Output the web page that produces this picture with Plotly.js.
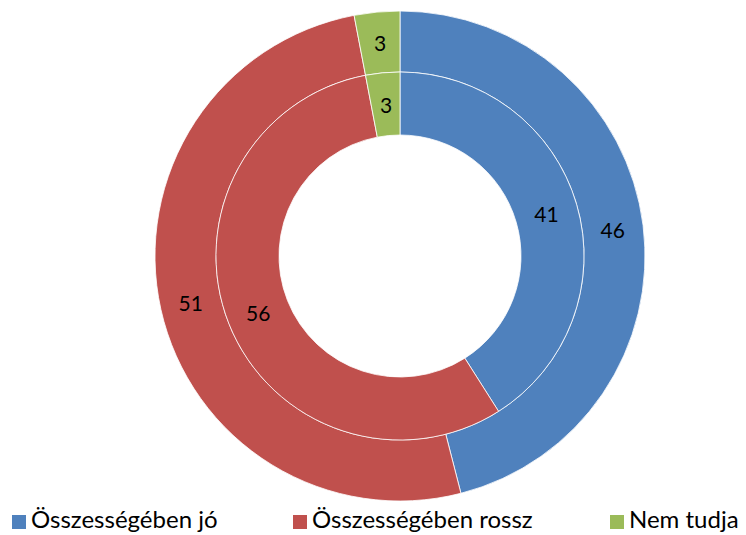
<!DOCTYPE html>
<html>
<head>
<meta charset="utf-8">
<script src="https://cdn.plot.ly/plotly-3.0.1.min.js"></script>
<style>html,body{margin:0;padding:0;background:#fff;}#chart{width:746px;height:535px;}</style>
</head>
<body>
<div id="chart"></div>
<script>
var categories = ["Összességében jó", "Összességében rossz", "Nem tudja"];
var outerValues = [46, 51, 3];
var innerValues = [41, 56, 3];
var colors = ["#4F81BD", "#C0504D", "#9BBB59"];

var W = 746, H = 535;
var FONT = "Lato, 'Open Sans', sans-serif";
var cx = 400, cy = 256;          // pie centre in pixels
var rOuter = 245, rMid = 184, rHole = 121;

function makePie(values, r, hole) {
  // small slices get their labels as annotations placed at mid-ring
  var texts = values.map(function (v) { return v >= 10 ? String(v) : ""; });
  return {
    type: "pie",
    labels: categories,
    values: values,
    text: texts,
    sort: false,
    direction: "clockwise",
    rotation: 0,
    hole: hole,
    textinfo: "text",
    textposition: "inside",
    insidetextorientation: "horizontal",
    textfont: {family: FONT, size: 21, color: "#000"},
    marker: {colors: colors, line: {color: "#ffffff", width: 0.8}},
    domain: {x: [(cx - r) / W, (cx + r) / W], y: [(H - cy - r) / H, (H - cy + r) / H]},
    showlegend: false,
    hoverinfo: "label+value"
  };
}

var outer = makePie(outerValues, rOuter, rMid / rOuter);
var inner = makePie(innerValues, rMid, rHole / rMid);

var annotations = [];
function smallLabels(values, rIn, rOut) {
  var total = values.reduce(function (a, b) { return a + b; }, 0);
  var cum = 0;
  values.forEach(function (v) {
    var midFrac = (cum + v / 2) / total;
    cum += v;
    if (v >= 10) return;
    var ang = midFrac * 2 * Math.PI;
    var rr = (rIn + rOut) / 2;
    annotations.push({
      xref: "paper", yref: "paper",
      x: (cx + rr * Math.sin(ang)) / W,
      y: (H - cy + rr * Math.cos(ang)) / H,
      text: String(v), showarrow: false,
      xanchor: "center", yanchor: "middle",
      font: {family: FONT, size: 21, color: "#000"}
    });
  });
}
smallLabels(outerValues, rMid, rOuter);
smallLabels(innerValues, rHole, rMid);

// legend drawn as squares + text along the bottom edge
var legendX = [12, 293, 610];
var shapes = [];
categories.forEach(function (c, i) {
  shapes.push({
    type: "rect", xref: "paper", yref: "paper",
    x0: legendX[i] / W, x1: (legendX[i] + 14) / W,
    y0: (H - 529) / H, y1: (H - 515) / H,
    fillcolor: colors[i], line: {width: 0}
  });
  annotations.push({
    xref: "paper", yref: "paper",
    x: (legendX[i] + 17) / W, y: 0,
    xanchor: "left", yanchor: "bottom",
    text: c, showarrow: false,
    font: {family: FONT, size: 24, color: "#000"}
  });
});

var layout = {
  width: W, height: H,
  margin: {l: 0, r: 0, t: 0, b: 0},
  paper_bgcolor: "#fff",
  showlegend: false,
  annotations: annotations,
  shapes: shapes
};

Plotly.newPlot("chart", [outer, inner], layout, {displayModeBar: false, staticPlot: true});
</script>
</body>
</html>
